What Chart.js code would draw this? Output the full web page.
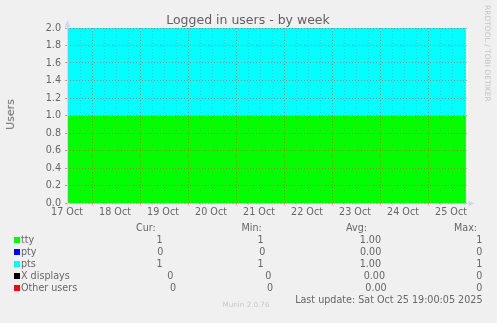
<!DOCTYPE html>
<html><head><meta charset="utf-8">
<script src="https://cdn.jsdelivr.net/npm/chart.js@4/dist/chart.umd.min.js"></script>
<style>
html,body{margin:0;padding:0;background:#F0F0F0;overflow:hidden;}
#wrap{position:relative;width:497px;height:323px;overflow:hidden;font-family:"DejaVu Sans",sans-serif;color:#666;}
canvas{position:absolute;left:0;top:0;display:block;}
.t{position:absolute;white-space:nowrap;font-size:9.6px;line-height:12px;font-weight:normal;}
.sw{position:absolute;width:6px;height:6px;}
</style></head>
<body>
<div id="wrap">
<canvas id="c" width="497" height="323" style="width:497px;height:323px;"></canvas>
<div class="t" style="left:0;width:496px;text-align:center;top:12px;font-size:12.5px;line-height:15px;color:#606060;">Logged in users - by week</div>
<div class="t" style="left:4px;top:99px;font-size:11px;line-height:13px;color:#666;writing-mode:vertical-rl;transform:rotate(180deg);">Users</div>
<div class="t" style="left:483px;top:5px;font-size:7.5px;line-height:9px;color:#c4c4c4;writing-mode:vertical-rl;">RRDTOOL / TOBI OETIKER</div>
<div class="t" style="left:0;width:492px;text-align:center;top:300px;font-size:7.2px;line-height:10px;color:#c8c8c8;">Munin 2.0.76</div>
<div id="legend"></div>
</div>
<script>
// ---- data ----
const xLabels = ['17 Oct','18 Oct','19 Oct','20 Oct','21 Oct','22 Oct','23 Oct','24 Oct','25 Oct'];
const yTickLabels = ['0.0','0.2','0.4','0.6','0.8','1.0','1.2','1.4','1.6','1.8','2.0'];
const sampleDays = [0, 8.31];          // days since 17 Oct 00:00
const tty        = [1, 1];
const pty        = [0, 0];
const pts        = [1, 1];
const xDisplays  = [0, 0];
const otherUsers = [0, 0];
const seriesNames = ['tty','pty','pts','X displays','Other users'];
const curVals = ['1','0','1','0','0'];
const minVals = ['1','0','1','0','0'];
const avgVals = ['1.00','0.00','1.00','0.00','0.00'];
const maxVals = ['1','0','1','0','0'];
const lastUpdate = 'Last update: Sat Oct 25 19:00:05 2025';

// ---- style ----
const colors = ['#00FF00','#0000FF','#00FFFF','#000000','#FF0000'];
const X_MAX = 8.354, MAJOR_OFF = 0.527;
const MGRID = 'rgba(240,50,50,0.55)', GRID = 'rgba(120,120,120,0.32)', AXIS = '#CFD6F8';

const series = [tty, pty, pts, xDisplays, otherUsers];
const datasets = series.map((vals, i) => ({
  label: seriesNames[i],
  data: sampleDays.map((d, j) => ({x: d, y: vals[j]})),
  backgroundColor: colors[i],
  borderColor: colors[i],
  borderWidth: 0,
  pointRadius: 0,
  fill: i === 0 ? 'origin' : '-1',
  tension: 0
}));

function xKind(v) {
  if (Math.abs(v - Math.round(v)) < 1e-6) return 'label';
  let f = (v - MAJOR_OFF) % 1; if (f < 0) f += 1;
  if (f < 1e-6 || f > 1 - 1e-6) return 'major';
  return 'minor';
}
const NONE = 'rgba(0,0,0,0)';

const bgPlugin = {
  id: 'bg',
  beforeDraw(chart) {
    const {ctx, chartArea: a} = chart;
    ctx.save(); ctx.fillStyle = '#FFFFFF';
    ctx.fillRect(a.left, a.top, a.right - a.left, a.bottom - a.top);
    ctx.restore();
  },
  afterDraw(chart) {
    const {ctx, chartArea: a} = chart;
    const x0 = Math.round(a.left) + 0.5, y0 = Math.round(a.bottom) + 0.5;
    ctx.save();
    ctx.strokeStyle = AXIS; ctx.lineWidth = 1;
    ctx.beginPath(); ctx.moveTo(x0, y0 + 2); ctx.lineTo(x0, a.top - 2); ctx.stroke();
    ctx.fillStyle = AXIS;
    ctx.beginPath();
    ctx.moveTo(x0, a.top - 8); ctx.lineTo(x0 - 3, a.top - 1); ctx.lineTo(x0 + 3, a.top - 1); ctx.closePath(); ctx.fill();
    ctx.beginPath();
    ctx.moveTo(a.right + 6, y0); ctx.lineTo(a.right + 0.5, y0 - 3); ctx.lineTo(a.right + 0.5, y0 + 3); ctx.closePath(); ctx.fill();
    ctx.restore();
  }
};

new Chart(document.getElementById('c'), {
  type: 'line',
  data: { datasets },
  plugins: [bgPlugin],
  options: {
    responsive: false, animation: false, devicePixelRatio: 1,
    layout: { padding: { left: 0, top: 28, right: 29, bottom: 100 } },
    plugins: { legend: { display: false }, title: { display: false }, tooltip: { enabled: false } },
    scales: {
      x: {
        type: 'linear', min: 0, max: X_MAX,
        afterFit(s) { s.height = 20; },
        afterBuildTicks(s) {
          const vals = [];
          for (let k = -4; ; k++) { const v = MAJOR_OFF + 0.25 * k; if (v > X_MAX) break; if (v > 0.1) vals.push(v); }
          xLabels.forEach((_, i) => vals.push(i));
          vals.sort((a, b) => a - b);
          s.ticks = vals.map(v => ({ value: v }));
        },
        ticks: {
          autoSkip: false, maxRotation: 0, minRotation: 0, padding: 2,
          color: '#666', font: { family: 'DejaVu Sans', size: 9.6 },
          callback: (v) => xKind(v) === 'label' ? xLabels[Math.round(v)] : ''
        },
        grid: {
          z: 1, tickLength: 2, lineWidth: 1,
          color: (c) => { const k = xKind(c.tick.value); return k === 'major' ? MGRID : k === 'minor' ? GRID : NONE; },
          tickColor: (c) => { const k = xKind(c.tick.value); return k === 'major' ? MGRID : k === 'minor' ? GRID : NONE; }
        },
        border: { display: false, dash: [1, 2] }
      },
      y: {
        type: 'linear', min: 0, max: 2, stacked: true,
        afterFit(s) { s.width = 67; },
        afterBuildTicks(s) { s.ticks = Array.from({ length: 21 }, (_, i) => ({ value: i / 10 })); },
        ticks: {
          padding: 4, color: '#666', font: { family: 'DejaVu Sans', size: 9.6 },
          callback: (v, i) => i % 2 === 0 ? yTickLabels[i / 2] : ''
        },
        grid: {
          z: 1, tickLength: 2, lineWidth: 1,
          color: (c) => c.index % 2 === 0 ? MGRID : GRID,
          tickColor: (c) => c.index % 2 === 0 ? MGRID : GRID
        },
        border: { display: false, dash: [1, 2] }
      }
    }
  }
});

// ---- legend table (text) ----
const L = document.getElementById('legend');
function txt(s, css) { const d = document.createElement('div'); d.className = 't'; d.textContent = s; d.style.cssText += css; L.appendChild(d); }
const hdr = [['Cur:', 136], ['Min:', 241.5], ['Avg:', 346], ['Max:', 454]];
hdr.forEach(([s, x]) => txt(s, `left:${x}px;top:222px;`));
const rowTop = [234, 246, 258, 270, 282];
const curR = [162.5, 163.3, 162.5, 173.3, 176];
const minR = [263.5, 265.3, 263.5, 271.3, 273.2];
const avgR = [381, 381.3, 381, 385, 386.7];
const maxR = [482.3, 482.3, 482.3, 482.3, 482.3];
seriesNames.forEach((n, i) => {
  const sw = document.createElement('div'); sw.className = 'sw';
  sw.style.cssText += `left:14px;top:${rowTop[i] + 3}px;background:${colors[i]};`;
  L.appendChild(sw);
  txt(n, `left:21px;top:${rowTop[i]}px;`);
  txt(curVals[i], `right:${497 - curR[i]}px;top:${rowTop[i]}px;`);
  txt(minVals[i], `right:${497 - minR[i]}px;top:${rowTop[i]}px;`);
  txt(avgVals[i], `right:${497 - avgR[i]}px;top:${rowTop[i]}px;`);
  txt(maxVals[i], `right:${497 - maxR[i]}px;top:${rowTop[i]}px;`);
});
txt(lastUpdate, `right:${497 - 482.5}px;top:294px;`);
</script>
</body></html>
